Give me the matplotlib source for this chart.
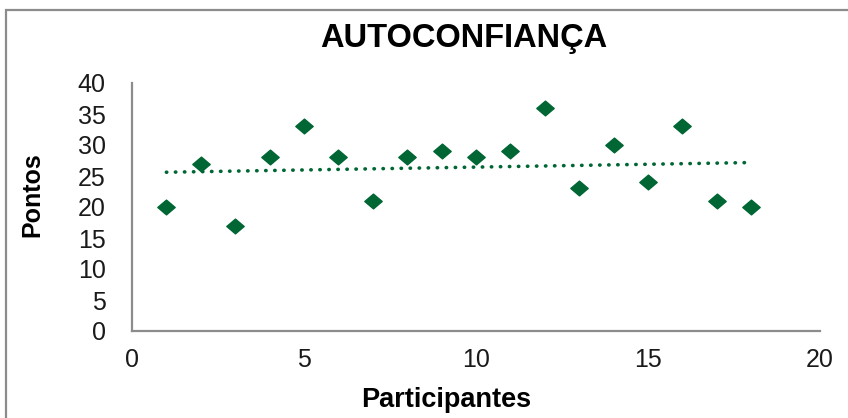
#!/usr/bin/env python3
"""Scatter of self-confidence scores per participant with a linear trendline."""

import matplotlib

matplotlib.use("Agg")
import matplotlib.pyplot as plt
import numpy as np
from matplotlib.patches import Rectangle
from matplotlib.path import Path

participants = [1, 2, 3, 4, 5, 6, 7, 8, 9, 10, 11, 12, 13, 14, 15, 16, 17, 18]
pontos = [20, 27, 17, 28, 33, 28, 21, 28, 29, 28, 29, 36, 23, 30, 24, 33, 21, 20]
x_ticks = [0, 5, 10, 15, 20]
y_ticks = [0, 5, 10, 15, 20, 25, 30, 35, 40]

GREEN = "#006633"
SPINE = "#8c8c8c"

plt.rcParams["font.family"] = ["Liberation Sans", "DejaVu Sans"]

W, H = 848, 418
fig = plt.figure(figsize=(W / 100, H / 100), dpi=100)
ax = fig.add_axes([132 / W, 1 - 331 / H, (820 - 132) / W, (331 - 83) / H])

# slightly wide diamond marker
diamond = Path([(-1, 0), (0, 0.85), (1, 0), (0, -0.85), (-1, 0)],
               [Path.MOVETO, Path.LINETO, Path.LINETO, Path.LINETO, Path.CLOSEPOLY])

x = np.array(participants, dtype=float)
y = np.array(pontos, dtype=float)
ax.plot(x, y, ls="none", marker=diamond, ms=12.5, color=GREEN, mec=GREEN, zorder=3)

# linear trendline over the participant range
slope, intercept = np.polyfit(x, y, 1)
xt = np.array([x.min(), x.max()])
ax.plot(xt, slope * xt + intercept, color=GREEN, lw=2.6,
        ls=(0, (0.1, 2.4)), dash_capstyle="round", zorder=2)

ax.set_xlim(0, 20)
ax.set_ylim(0, 40)
ax.set_xticks(x_ticks)
ax.set_yticks(y_ticks)
ax.tick_params(length=0, labelsize=18, colors="#1a1a1a")
ax.tick_params(axis="y", pad=19)
ax.tick_params(axis="x", pad=12)
for side in ("top", "right"):
    ax.spines[side].set_visible(False)
for side in ("left", "bottom"):
    ax.spines[side].set_color(SPINE)
    ax.spines[side].set_linewidth(1.6)

fig.text(464 / W, 1 - 38 / H, "AUTOCONFIANÇA", ha="center", va="center",
         fontsize=23.5, fontweight="bold")
fig.text(446 / W, 1 - 400 / H, "Participantes", ha="center", va="center",
         fontsize=19.5, fontweight="bold")
fig.text(32 / W, 1 - 195 / H, "Pontos", ha="center", va="center",
         rotation=90, fontsize=18, fontweight="bold")

# chart area frame, running off the right and bottom edges
fig.patches.append(Rectangle((6 / W, -0.1), 1.2, 1.1 - 10 / H, transform=fig.transFigure,
                             fill=False, edgecolor=SPINE, lw=1.6))

fig.savefig("out.png", dpi=100)
